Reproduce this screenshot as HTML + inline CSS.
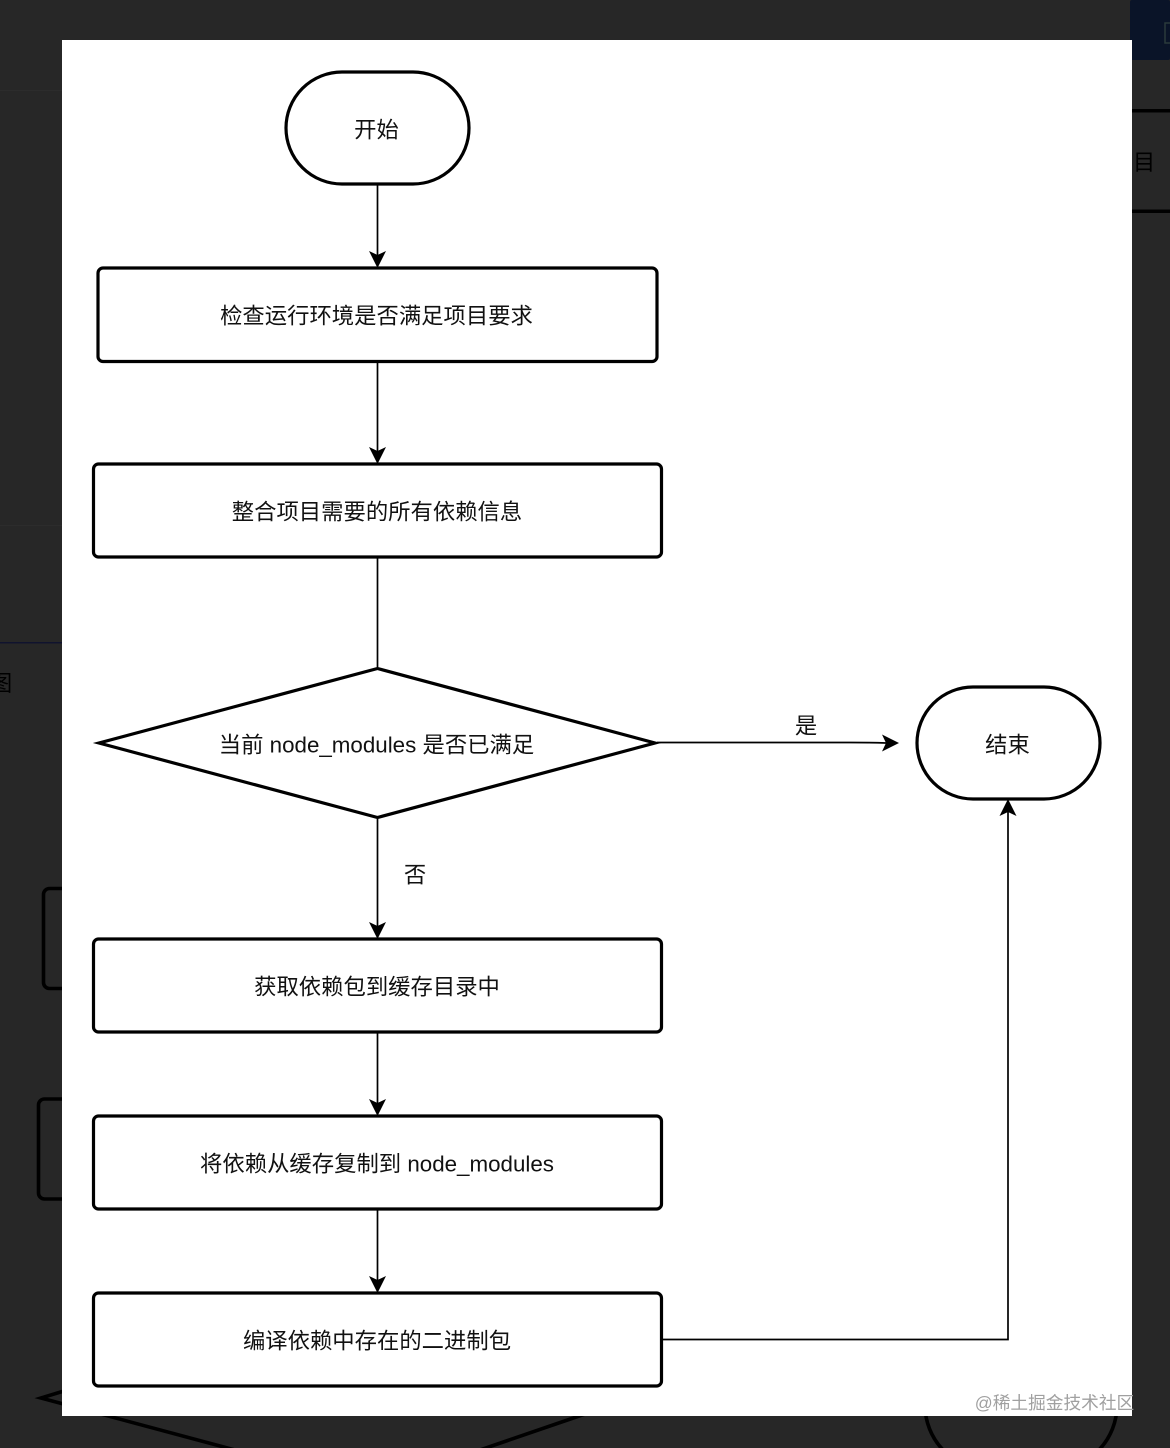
<!DOCTYPE html>
<html><head><meta charset="utf-8"><style>
html,body{margin:0;padding:0;background:#272727}
svg{display:block}
text{font-family:"Liberation Sans","Noto Sans CJK SC",sans-serif;font-size:22.35px;fill:#111;text-anchor:middle;dominant-baseline:central}
.b{fill:#fff;stroke:#000;stroke-width:3.2}
.l{fill:none;stroke:#000;stroke-width:1.7}
.d{fill:none;stroke:#000;stroke-width:3.6}
</style></head><body>
<svg width="1170" height="1448" viewBox="0 0 1170 1448" xmlns="http://www.w3.org/2000/svg">
<rect width="1170" height="1448" fill="#272727"/>
<rect x="0" y="90" width="62" height="1" fill="#2c2c2c"/>
<rect x="0" y="525" width="62" height="1" fill="#2c2c2c"/>
<rect x="1130" y="0" width="40" height="60" rx="2" fill="#0a1428"/>
<rect x="1165" y="23" width="6" height="20" fill="none" stroke="#2a3a3a" stroke-width="1.5"/>
<rect x="1132" y="109" width="38" height="3.500" fill="#000"/>
<rect x="1132" y="209.500" width="38" height="3.500" fill="#000"/>
<text x="1144" y="162.500" style="fill:#000">目</text>
<rect x="0" y="642" width="62" height="1.500" fill="#10132e"/>
<text x="1" y="683.500" style="fill:#000">图</text>
<rect class="d" x="43.500" y="888.500" width="60" height="100" rx="6"/>
<rect class="d" x="38.500" y="1099" width="60" height="100" rx="6"/>
<path class="d" d="M100 1380 L41 1398 L235 1450 M585 1414 L480 1450"/>
<rect class="d" x="925" y="1340" width="192" height="130" rx="65"/>
<rect x="62" y="40" width="1070" height="1376" fill="#fff"/>
<rect class="b" x="286" y="72" width="183" height="112" rx="56"/>
<text x="376.500" y="130">开始</text>
<rect class="b" x="98" y="268" width="559" height="93.500" rx="5"/>
<text x="376.500" y="316">检查运行环境是否满足项目要求</text>
<rect class="b" x="93.500" y="464" width="568" height="93" rx="5"/>
<text x="377" y="512">整合项目需要的所有依赖信息</text>
<path class="b" d="M377.500 668.500 L655 743 L377.500 817.500 L99 743 Z"/>
<text x="376.500" y="745">当前 node_modules 是否已满足</text>
<rect class="b" x="917" y="687" width="183" height="112" rx="56"/>
<text x="1007.500" y="745">结束</text>
<rect class="b" x="93.500" y="939" width="568" height="93" rx="5"/>
<text x="377" y="987">获取依赖包到缓存目录中</text>
<rect class="b" x="93.500" y="1116" width="568" height="93" rx="5"/>
<text x="377" y="1164">将依赖从缓存复制到 node_modules</text>
<rect class="b" x="93.500" y="1293" width="568" height="93" rx="5"/>
<text x="377" y="1341">编译依赖中存在的二进制包</text>
<path class="l" d="M377.500 185 V255 M377.500 362 V451 M377.500 558 V667 M377.500 819 V926 M377.500 1033 V1103 M377.500 1210 V1280"/>
<path class="l" d="M657 742.500 H850 Q870 742.500 886 743 M663 1339.500 H1008 V812"/>
<g fill="#000">
<path d="M377.500 268 L369 251 L377.500 255 L386 251 Z"/>
<path d="M377.500 464 L369 447 L377.500 451 L386 447 Z"/>
<path d="M377.500 939 L369 922 L377.500 926 L386 922 Z"/>
<path d="M377.500 1116 L369 1099 L377.500 1103 L386 1099 Z"/>
<path d="M377.500 1293 L369 1276 L377.500 1280 L386 1276 Z"/>
<path d="M899 743 L882 734.500 L886 743 L882 751.500 Z"/>
<path d="M1008 799 L999.500 816 L1008 812 L1016.500 816 Z"/>
</g>
<text x="806" y="726">是</text>
<text x="415" y="875">否</text>
<text x="1054.500" y="1403" style="font-size:17.7px;fill:#a0a0a0">@稀土掘金技术社区</text>
</svg>
</body></html>
